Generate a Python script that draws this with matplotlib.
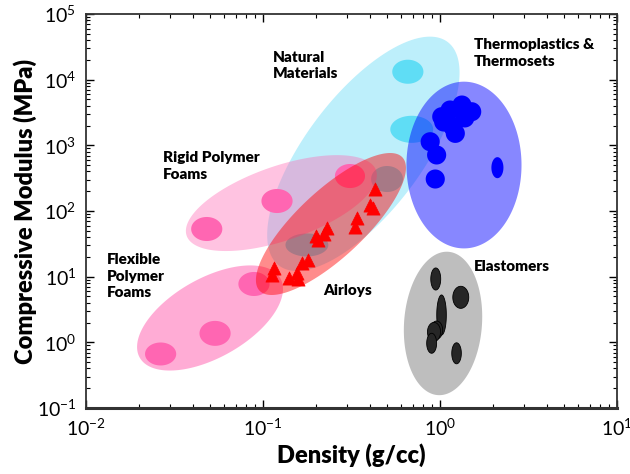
import numpy as np
import matplotlib
matplotlib.use("Agg")
import matplotlib.pyplot as plt

plt.rcParams["font.family"] = ["Lato", "DejaVu Sans"]
plt.rcParams["mathtext.fontset"] = "custom"
plt.rcParams["mathtext.rm"] = "Lato"
plt.rcParams["mathtext.it"] = "Lato:italic"
plt.rcParams["mathtext.bf"] = "Lato:bold"

# material families: centre (density g/cc, modulus MPa),
# semi-axes in x-decade units, tilt as drawn (deg)
fam_names = ["Natural", "Rigid", "Flexible", "Airloys", "Thermo", "Elastomers"]
fam_density = [0.369, 0.127, 0.0502, 0.242, 1.366, 1.04]
fam_modulus = [743, 132, 2.35, 63.4, 501, 1.94]
fam_a = [0.791, 0.566, 0.456, 0.552, 0.325, 0.406]
fam_b = [0.328, 0.210, 0.224, 0.189, 0.471, 0.220]
fam_angle = [53, 19, 29.4, 43, 0, 85.8]

# individual materials: centre plus half-spread in decades (x, y)
nat_density = [0.658, 0.692, 0.502, 0.177]
nat_modulus = [13200, 1754, 307, 30.4]
nat_dx = [0.088, 0.121, 0.090, 0.121]
nat_dy = [0.183, 0.206, 0.198, 0.175]

rigid_density = [0.0481, 0.120, 0.310]
rigid_modulus = [53.2, 142, 341]
rigid_dx = [0.088, 0.088, 0.085]
rigid_dy = [0.183, 0.183, 0.183]

flex_density = [0.0264, 0.0536, 0.0889]
flex_modulus = [0.665, 1.37, 7.74]
flex_dx = [0.088, 0.088, 0.088]
flex_dy = [0.175, 0.190, 0.183]

thermo_density = [1.023, 1.14, 1.33, 1.51, 1.18, 1.22, 0.88, 0.957, 0.94, 2.11, 1.05, 1.38]
thermo_modulus = [2730, 3450, 4110, 3250, 1920, 1520, 1135, 713, 307, 457, 2265, 2610]
thermo_dx = [0.054] * 9 + [0.034, 0.054, 0.054]
thermo_dy = [0.145] * 9 + [0.160, 0.145, 0.145]

elast_density = [0.946, 1.31, 1.02, 0.957, 0.925, 0.897, 1.24]
elast_modulus = [9.22, 4.85, 2.61, 1.54, 1.44, 0.968, 0.681]
elast_dx = [0.028, 0.045, 0.027, 0.034, 0.037, 0.028, 0.027]
elast_dy = [0.168, 0.168, 0.305, 0.137, 0.145, 0.152, 0.160]

airloy_density = [0.43, 0.40, 0.42, 0.34, 0.33, 0.23, 0.22, 0.20, 0.205,
                  0.18, 0.166, 0.156, 0.158, 0.14, 0.115, 0.112]
airloy_modulus = [216, 123, 111, 78, 57, 55, 45, 42, 36,
                  18, 16, 11.4, 9.2, 9.5, 13.6, 10.6]

t = np.linspace(0, 2 * np.pi, 240)


def region(ax, i, sx, sy, **kw):
    th = np.radians(fam_angle[i])
    u = fam_a[i] * np.cos(t) * sx
    v = fam_b[i] * np.sin(t) * sx
    lx = np.log10(fam_density[i]) + (u * np.cos(th) - v * np.sin(th)) / sx
    ly = np.log10(fam_modulus[i]) + (u * np.sin(th) + v * np.cos(th)) / sy
    ax.fill(10 ** lx, 10 ** ly, lw=0, **kw)


def blobs(ax, xs, ys, dxs, dys, **kw):
    for x, y, dx, dy in zip(xs, ys, dxs, dys):
        lx = np.log10(x) + dx * np.cos(t)
        ly = np.log10(y) + dy * np.sin(t)
        ax.fill(10 ** lx, 10 ** ly, **kw)


fig = plt.figure(figsize=(6.3, 4.74), dpi=100)
ax = fig.add_axes([0.1365, 0.1392, 0.8429, 0.8313])
ax.set_xscale("log")
ax.set_yscale("log")
ax.set_xlim(1e-2, 1e1)
ax.set_ylim(1e-1, 1e5)

p0 = ax.transData.transform((1, 1))
p1 = ax.transData.transform((10, 10))
sx, sy = p1[0] - p0[0], p1[1] - p0[1]

region(ax, 0, sx, sy, color="#bdeffb")
blobs(ax, nat_density, nat_modulus, nat_dx, nat_dy, color="#5fddf5", lw=0)
region(ax, 1, sx, sy, color="#ff69b4", alpha=0.4)
region(ax, 2, sx, sy, color="#ff69b4", alpha=0.55)
blobs(ax, rigid_density, rigid_modulus, rigid_dx, rigid_dy, color="#ff66b2", lw=0)
blobs(ax, flex_density, flex_modulus, flex_dx, flex_dy, color="#ff66b2", lw=0)
region(ax, 3, sx, sy, color="#ff0000", alpha=0.45)
ax.scatter(airloy_density, airloy_modulus, marker="^", s=90, color="red",
           edgecolors="red", linewidths=0.5, zorder=3)
region(ax, 4, sx, sy, color="#0000ff", alpha=0.47)
blobs(ax, thermo_density, thermo_modulus, thermo_dx, thermo_dy, color="#0000ff", lw=0)
region(ax, 5, sx, sy, color="#bebebe")
blobs(ax, elast_density, elast_modulus, elast_dx, elast_dy,
      facecolor="#262626", edgecolor="black", lw=0.6)

lab = dict(transform=ax.transAxes, fontsize=11, fontweight="heavy",
           va="top", ha="left", linespacing=1.35)
ax.text(0.351, 0.907, "Natural\nMaterials", **lab)
ax.text(0.731, 0.938, "Thermoplastics &\nThermosets", **lab)
ax.text(0.145, 0.653, "Rigid Polymer\nFoams", **lab)
ax.text(0.039, 0.394, "Flexible\nPolymer\nFoams", **lab)
ax.text(0.446, 0.314, "Airloys", **lab)
ax.text(0.731, 0.376, "Elastomers", **lab)

ax.set_xlabel("Density (g/cc)", fontsize=17, fontweight="heavy", labelpad=3)
ax.set_ylabel("Compressive Modulus (MPa)", fontsize=17, fontweight="heavy", labelpad=0)
ax.tick_params(which="both", direction="in", top=True, right=True, labelsize=14)
ax.tick_params(which="major", length=6, width=1, pad=7)
ax.tick_params(which="minor", length=3, width=0.8)
for s in ax.spines.values():
    s.set_color("#333333")
    s.set_linewidth(1.3)
ax.spines["bottom"].set_linewidth(2.2)

fig.savefig("out.png", dpi=100)
